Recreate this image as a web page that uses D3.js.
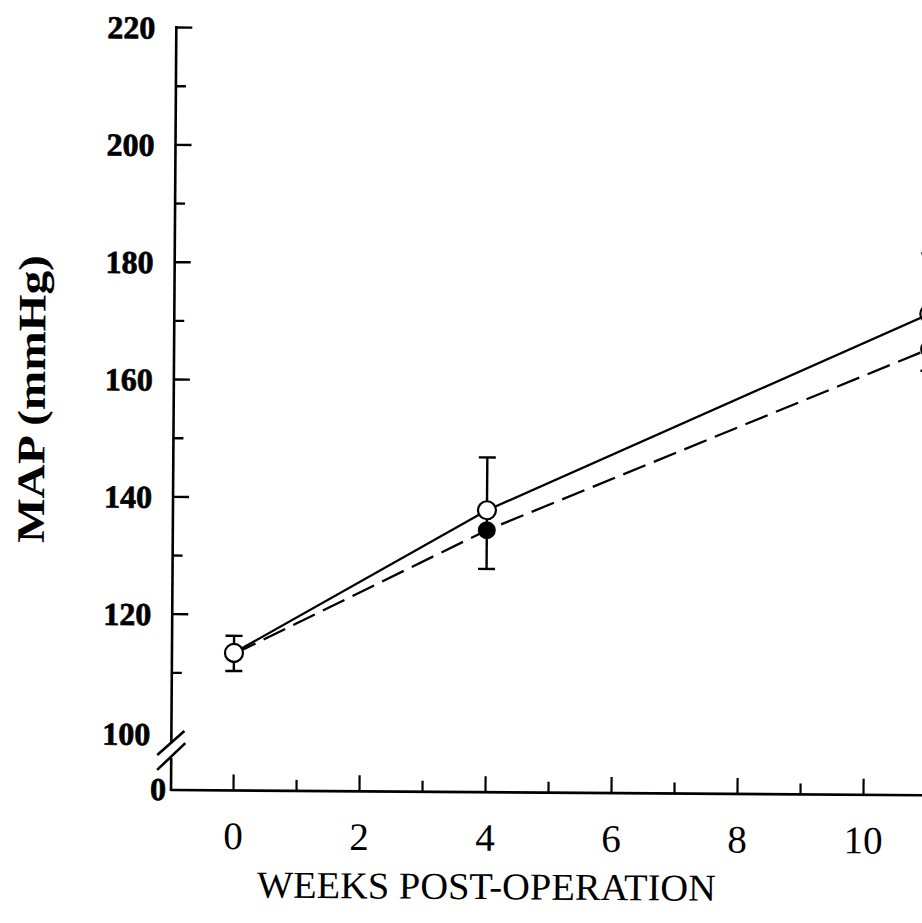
<!DOCTYPE html>
<html>
<head>
<meta charset="utf-8">
<script src="https://cdn.jsdelivr.net/npm/d3@7"></script>
<style>
  html, body { margin: 0; padding: 0; background: #fff; }
  svg { display: block; }
  text { font-family: "Liberation Serif", "Times New Roman", serif; fill: #000; }
</style>
</head>
<body>
<svg id="vis" width="922" height="923"></svg>
<script>
// values
const weeks = [0, 4, 11];
const openMean = [113.4, 138, 172];
const filledMean = [113.2, 134.6, 166];
const errTop = [116.3, 147, 182.3];
const errBottom = [110.3, 128, 162.3];

const yTicks = d3.range(110, 221, 10);
const yLabels = [120, 140, 160, 180, 200, 220];
const xTicks = d3.range(0, 12);
const xLabels = [0, 2, 4, 6, 8, 10];

const origin = [171, 790];

const x = d3.scaleLinear().domain([-62 / 63, 12]).range([171, 989]);
const y = d3.scaleLinear().domain([100, 220]).range([731, 27]);

const svg = d3.select('#vis');
// the scan is turned a little clockwise
const g = svg.append('g')
  .attr('transform', `rotate(0.4, ${origin[0]}, ${origin[1]})`);

// heavy bold numbers like the print
const boldNum = sel => sel
  .style('font-size', '32px').style('font-weight', 'bold')
  .attr('stroke', '#000').attr('stroke-width', 0.7);

// y axis, ticks pointing inward
const yAxis = g.append('g')
  .attr('transform', `translate(${origin[0]},0)`)
  .call(d3.axisLeft(y).tickValues(yTicks).tickSizeInner(-16).tickSizeOuter(0)
    .tickFormat(d => yLabels.includes(d) ? d : ''));
yAxis.select('.domain').remove();
yAxis.selectAll('.tick line')
  .attr('stroke-width', 2.4)
  .attr('x2', d => yLabels.includes(d) ? 16 : 10);
yAxis.selectAll('.tick text')
  .attr('x', -21).attr('dy', '0.35em')
  .call(boldNum);

// 100 and 0 labels beside the broken axis
g.append('text').attr('x', origin[0] - 21).attr('y', y(100) + 3).attr('dy', '0.35em')
  .attr('text-anchor', 'end').text('100').call(boldNum);
g.append('text').attr('x', origin[0] - 5).attr('y', origin[1] - 1).attr('dy', '0.35em')
  .attr('text-anchor', 'end').text('0').call(boldNum);

// axis line with break
const axisPath = g.append('g').attr('stroke', '#000').attr('stroke-width', 2.6).attr('fill', 'none');
axisPath.append('line').attr('x1', origin[0]).attr('x2', origin[0]).attr('y1', y(220) - 1).attr('y2', 742);
axisPath.append('line').attr('x1', origin[0]).attr('x2', origin[0]).attr('y1', 758).attr('y2', origin[1] + 1);
axisPath.append('line').attr('x1', 157).attr('y1', 755).attr('x2', 184).attr('y2', 731);
axisPath.append('line').attr('x1', 157).attr('y1', 770).attr('x2', 185).attr('y2', 743);

// x axis
const xAxis = g.append('g')
  .attr('transform', `translate(0,${origin[1]})`)
  .call(d3.axisBottom(x).tickValues(xTicks).tickSizeInner(-15).tickSizeOuter(0)
    .tickFormat(d => xLabels.includes(d) ? d : ''));
xAxis.select('.domain').attr('stroke-width', 2.6).attr('d', `M${origin[0]},0H${x(12)}`);
xAxis.selectAll('.tick line')
  .attr('stroke-width', 2.2)
  .attr('y2', d => xLabels.includes(d) ? -16 : -11);
xAxis.selectAll('.tick text')
  .attr('y', 45).attr('dy', '0.35em')
  .style('font-size', '39px');

// titles
g.append('text')
  .attr('transform', `translate(42,400) rotate(-90)`)
  .attr('text-anchor', 'middle')
  .attr('textLength', 288).attr('lengthAdjust', 'spacingAndGlyphs')
  .style('font-size', '39px').style('font-weight', 'bold')
  .text('MAP (mmHg)');
g.append('text')
  .attr('x', 487).attr('y', 897)
  .attr('text-anchor', 'middle')
  .attr('textLength', 459).attr('lengthAdjust', 'spacingAndGlyphs')
  .style('font-size', '38px')
  .text('WEEKS POST-OPERATION');

// error bars
const bars = g.append('g').attr('stroke', '#000').attr('stroke-width', 2.4);
weeks.forEach((w, i) => {
  bars.append('line').attr('x1', x(w)).attr('x2', x(w)).attr('y1', y(errTop[i])).attr('y2', y(errBottom[i]));
  [errTop[i], errBottom[i]].forEach(v => {
    bars.append('line').attr('x1', x(w) - 8.5).attr('x2', x(w) + 8.5).attr('y1', y(v)).attr('y2', y(v));
  });
});

const line = d3.line().x(d => x(d[0])).y(d => y(d[1]));
g.append('path')
  .datum(weeks.map((w, i) => [w, filledMean[i]]))
  .attr('d', line).attr('fill', 'none').attr('stroke', '#000')
  .attr('stroke-width', 2.3).attr('stroke-dasharray', '24,9');
g.append('path')
  .datum(weeks.map((w, i) => [w, openMean[i]]))
  .attr('d', line).attr('fill', 'none').attr('stroke', '#000').attr('stroke-width', 2.3);

g.selectAll('circle.filled').data(weeks).enter().append('circle')
  .classed('filled', true)
  .attr('cx', d => x(d)).attr('cy', (d, i) => y(filledMean[i])).attr('r', 9)
  .attr('fill', '#000');
g.selectAll('circle.open').data(weeks).enter().append('circle')
  .classed('open', true)
  .attr('cx', d => x(d)).attr('cy', (d, i) => y(openMean[i])).attr('r', 9)
  .attr('fill', '#fff').attr('stroke', '#000').attr('stroke-width', 2.2);
</script>
</body>
</html>
